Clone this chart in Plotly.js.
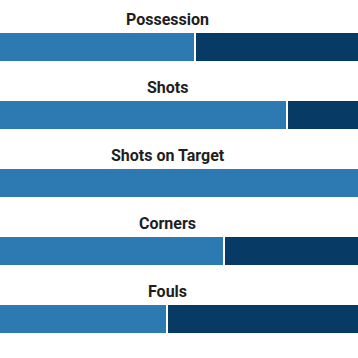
<!DOCTYPE html>
<html>
<head>
<meta charset="utf-8">
<script src="https://cdn.plot.ly/plotly-3.0.1.min.js"></script>
<style>html,body{margin:0;padding:0;background:#fff;}#chart{width:358px;height:358px;}</style>
</head>
<body>
<div id="chart"></div>
<script>
const categories = ["Possession", "Shots", "Shots on Target", "Corners", "Fouls"];
const homeValues = [54.5, 4, 2, 5, 7];
const awayValues = [45.5, 1, 0, 3, 8];

const yIdx = categories.map((c, i) => i);

const traces = [
  {type: "bar", orientation: "h", name: "Home", y: yIdx, x: homeValues,
   marker: {color: "#2d7ab3", line: {color: "#ffffff", width: 2}}, hoverinfo: "none"},
  {type: "bar", orientation: "h", name: "Away", y: yIdx, x: awayValues,
   marker: {color: "#073b65", line: {color: "#ffffff", width: 2}}, hoverinfo: "none"}
];

const annotations = categories.map((c, i) => ({
  text: "<b>" + c + "</b>", x: 0.469, xref: "paper", y: i, yref: "y",
  yshift: 27.5, showarrow: false, xanchor: "center", yanchor: "middle",
  font: {family: "Roboto, sans-serif", size: 16, color: "#1e1e1e"}
}));

const layout = {
  width: 358, height: 358,
  margin: {l: 0, r: 0, t: 13, b: 5, pad: 0},
  paper_bgcolor: "#ffffff", plot_bgcolor: "#ffffff",
  barmode: "stack", barnorm: "percent", bargap: 0.559,
  showlegend: false,
  xaxis: {range: [0.28, 99.72], visible: false, fixedrange: true},
  yaxis: {range: [4.5, -0.5], visible: false, fixedrange: true},
  annotations: annotations
};

Plotly.newPlot("chart", traces, layout, {displayModeBar: false, staticPlot: true});
</script>
</body>
</html>
